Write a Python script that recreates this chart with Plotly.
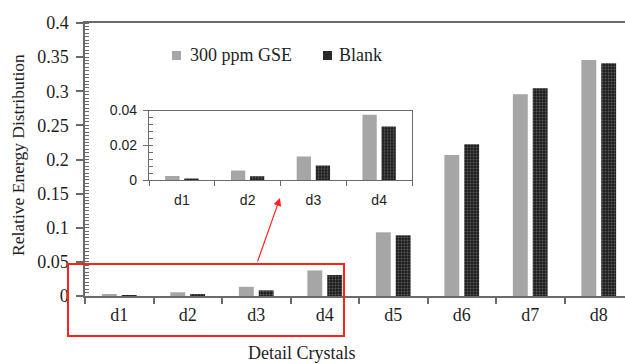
import plotly.graph_objects as go

# Relative energy distribution of detail crystals
crystals = ["d1", "d2", "d3", "d4", "d5", "d6", "d7", "d8"]
gse_300ppm = [0.0023, 0.0054, 0.0135, 0.0375, 0.0933, 0.2066, 0.2955, 0.3458]
blank = [0.0005, 0.0021, 0.0083, 0.0308, 0.0889, 0.2222, 0.3043, 0.3410]
series_names = ["300 ppm GSE", "Blank"]

# Zoomed inset shows the first four crystals
inset_n = 4
inset_crystals = crystals[:inset_n]

y_ticks = [0, 0.05, 0.1, 0.15, 0.2, 0.25, 0.3, 0.35, 0.4]
y_ticklabels = ["0", "0.05", "0.1", "0.15", "0.2", "0.25", "0.3", "0.35", "0.4"]
inset_ticks = [0, 0.02, 0.04]
inset_ticklabels = ["0", "0.02", "0.04"]

GRAY = "#a6a6a6"
DARK = "#222222"
AXIS = "#6a6a6a"
TEXT = "#1e1e1e"
SERIF = "Liberation Serif, Times New Roman, serif"
SANS = "Liberation Sans, Arial, sans-serif"

blank_pattern = dict(shape=".", fgcolor="#9c9c9c", bgcolor="#1c1c1c", size=3, solidity=0.35)

fig = go.Figure()

fig.add_trace(go.Bar(x=crystals, y=gse_300ppm, name=series_names[0], showlegend=False,
                     marker=dict(color=GRAY, line=dict(width=0)),
                     xaxis="x", yaxis="y"))
fig.add_trace(go.Bar(x=crystals, y=blank, name=series_names[1], showlegend=False,
                     marker=dict(color=DARK, pattern=blank_pattern, line=dict(width=0)),
                     xaxis="x", yaxis="y"))

fig.add_trace(go.Bar(x=inset_crystals, y=gse_300ppm[:inset_n], showlegend=False,
                     marker=dict(color=GRAY, line=dict(width=0)),
                     xaxis="x2", yaxis="y2"))
fig.add_trace(go.Bar(x=inset_crystals, y=blank[:inset_n], showlegend=False,
                     marker=dict(color=DARK, pattern=blank_pattern, line=dict(width=0)),
                     xaxis="x2", yaxis="y2"))

W, H = 625, 364
L, T, B = 85, 23, 68
plot_w = W - L
plot_h = H - T - B
cat_px = 68.5
x_hi = -0.5 + plot_w / cat_px


def px_x(p):
    return (p - L) / plot_w


def px_y(p):
    return (H - B - p) / plot_h


fig.update_layout(
    width=W, height=H,
    margin=dict(l=L, r=0, t=T, b=B),
    paper_bgcolor="white", plot_bgcolor="white",
    barmode="group", bargap=0.42, bargroupgap=0.25,
    font=dict(family=SERIF, size=18, color=TEXT),
    showlegend=False,
    xaxis=dict(domain=[0, 1], range=[-0.5, x_hi], type="category",
               showline=True, linecolor=AXIS, linewidth=1.5, mirror=True,
               tickson="boundaries", ticks="outside", ticklen=6, tickcolor=AXIS, tickwidth=1.5,
               ticklabelstandoff=2,
               showgrid=False, zeroline=False,
               tickfont=dict(family=SERIF, size=18, color=TEXT)),
    yaxis=dict(domain=[0, 1], range=[0, 0.4], tickvals=y_ticks, ticktext=y_ticklabels,
               showline=True, linecolor=AXIS, linewidth=1.5,
               ticks="outside", ticklen=7, tickcolor=AXIS, tickwidth=1.5,
               ticklabelstandoff=4,
               minor=dict(dtick=0.005, ticks="inside", ticklen=4, tickcolor=AXIS, tickwidth=1),
               showgrid=False, zeroline=False,
               tickfont=dict(family=SERIF, size=18, color=TEXT)),
    xaxis2=dict(domain=[px_x(149), px_x(412)], anchor="y2", range=[-0.5, inset_n - 0.5],
                type="category", showline=True, linecolor=AXIS, linewidth=1.2, mirror=True,
                tickson="boundaries", ticks="outside", ticklen=5, tickcolor=AXIS, tickwidth=1.2,
                ticklabelstandoff=7,
                showgrid=False, zeroline=False,
                tickfont=dict(family=SANS, size=14, color=TEXT)),
    yaxis2=dict(domain=[px_y(180), px_y(110.5)], anchor="x2", range=[0, 0.04],
                tickvals=inset_ticks, ticktext=inset_ticklabels,
                showline=True, linecolor=AXIS, linewidth=1.2, mirror=True,
                ticks="outside", ticklen=5, tickcolor=AXIS, tickwidth=1.2,
                ticklabelstandoff=3,
                minor=dict(dtick=0.004, ticks="inside", ticklen=4, tickcolor=AXIS, tickwidth=1),
                showgrid=False, zeroline=False,
                tickfont=dict(family=SANS, size=14, color=TEXT)),
)

# Legend: small squares with series names
legend_items = [(series_names[0], GRAY, 172, 188), (series_names[1], "#2a2a2a", 323, 337)]
for name, colour, sq_left, text_left in legend_items:
    fig.add_shape(type="rect", xref="paper", yref="paper",
                  x0=px_x(sq_left), x1=px_x(sq_left + 9), y0=px_y(60), y1=px_y(51),
                  line=dict(width=0), fillcolor=colour)
    fig.add_annotation(text=name, xref="paper", yref="paper", x=px_x(text_left), y=px_y(55),
                       xanchor="left", yanchor="middle", showarrow=False,
                       font=dict(family=SERIF, size=18, color=TEXT))

# Axis titles
fig.add_annotation(text="Detail Crystals", xref="paper", yref="paper",
                   x=px_x(301), y=px_y(353), xanchor="center", yanchor="middle",
                   showarrow=False, font=dict(family=SERIF, size=18, color=TEXT))
fig.add_annotation(text="Relative Energy Distribution", xref="paper", yref="paper",
                   x=px_x(18), y=px_y(155), xanchor="center", yanchor="middle",
                   textangle=-90, showarrow=False,
                   font=dict(family=SERIF, size=17.5, color=TEXT))

# Highlight box around the zoomed crystals and pointer to the inset
fig.add_shape(type="rect", xref="paper", yref="paper",
              x0=px_x(68), x1=px_x(344), y0=px_y(336), y1=px_y(264),
              line=dict(color="#ff2020", width=2), fillcolor="rgba(0,0,0,0)")
fig.add_annotation(text="", xref="paper", yref="paper", x=px_x(280), y=px_y(198),
                   ax=-23, ay=65, showarrow=True, arrowhead=2, arrowsize=1.3,
                   arrowwidth=1.2, arrowcolor="#ff2020")

fig.write_html("out.html")
